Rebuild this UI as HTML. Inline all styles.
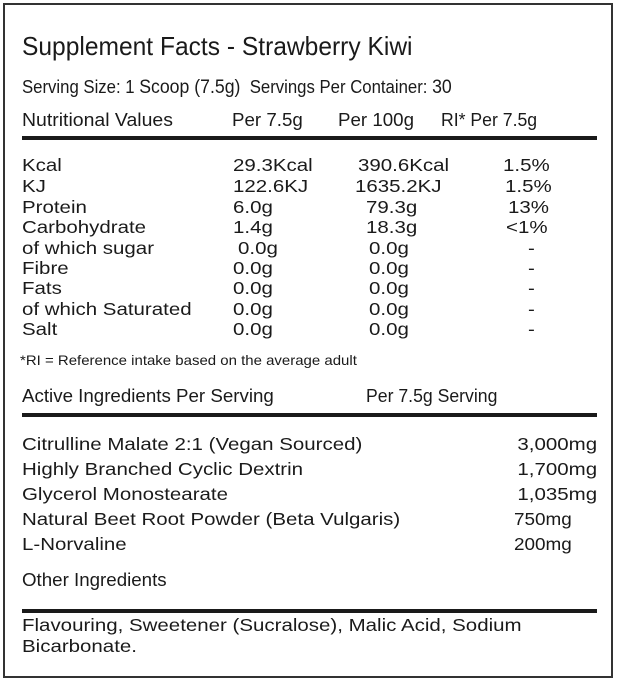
<!DOCTYPE html>
<html><head><meta charset="utf-8"><style>
body{margin:0;background:#fff;width:617px;height:680px;position:relative;overflow:hidden;font-family:"Liberation Sans",sans-serif;color:#1a1a1a}
.box{position:absolute;left:3px;top:3px;width:606px;height:671px;border:2px solid #333}
.t{position:absolute;white-space:nowrap;line-height:20px;height:20px}
.h{font-size:18px;transform:scaleX(1.04);transform-origin:left center}
.r{font-size:17.5px;transform:scaleX(1.17);transform-origin:left center}
.rr{font-size:17.5px;transform:scaleX(1.17);transform-origin:right center}
.rule{position:absolute;left:22px;width:575px;height:4px;background:#1a1a1a}
</style></head><body>
<div class="box"></div>
<div class="t" style="left:22px;top:32px;font-size:26px;line-height:28px;height:28px;transform:scaleX(0.945);transform-origin:left">Supplement Facts - Strawberry Kiwi</div>
<div class="t" style="left:22px;top:77px;font-size:18px;transform:scaleX(0.93);transform-origin:left">Serving Size: 1 <span style="font-size:19px">Scoop (7.5g)</span>&nbsp; Servings Per Container: <span style="font-size:19px">30</span></div>
<div class="t h" style="left:22px;top:110px;transform:scaleX(1.08)">Nutritional Values</div>
<div class="t h" style="left:232px;top:110px">Per 7.5g</div>
<div class="t h" style="left:338px;top:110px">Per 100g</div>
<div class="t h" style="left:441px;top:110px;transform:scaleX(0.98)">RI* Per 7.5g</div>
<div class="rule" style="top:136px"></div>

<div class="t r" style="left:22px;top:155px">Kcal</div><div class="t r" style="left:233px;top:155px">29.3Kcal</div><div class="t r" style="left:358px;top:155px">390.6Kcal</div><div class="t r" style="left:503px;top:155px">1.5%</div>
<div class="t r" style="left:22px;top:176px">KJ</div><div class="t r" style="left:233px;top:176px">122.6KJ</div><div class="t r" style="left:355px;top:176px">1635.2KJ</div><div class="t r" style="left:505px;top:176px">1.5%</div>
<div class="t r" style="left:22px;top:197px">Protein</div><div class="t r" style="left:233px;top:197px">6.0g</div><div class="t r" style="left:366px;top:197px">79.3g</div><div class="t r" style="left:508px;top:197px">13%</div>
<div class="t r" style="left:22px;top:217px">Carbohydrate</div><div class="t r" style="left:233px;top:217px">1.4g</div><div class="t r" style="left:366px;top:217px">18.3g</div><div class="t r" style="left:506px;top:217px">&lt;1%</div>
<div class="t r" style="left:22px;top:238px">of which sugar</div><div class="t r" style="left:238px;top:238px">0.0g</div><div class="t r" style="left:369px;top:238px">0.0g</div><div class="t r" style="left:528px;top:238px">-</div>
<div class="t r" style="left:22px;top:258px">Fibre</div><div class="t r" style="left:233px;top:258px">0.0g</div><div class="t r" style="left:369px;top:258px">0.0g</div><div class="t r" style="left:528px;top:258px">-</div>
<div class="t r" style="left:22px;top:278px">Fats</div><div class="t r" style="left:233px;top:278px">0.0g</div><div class="t r" style="left:369px;top:278px">0.0g</div><div class="t r" style="left:528px;top:278px">-</div>
<div class="t r" style="left:22px;top:299px">of which Saturated</div><div class="t r" style="left:233px;top:299px">0.0g</div><div class="t r" style="left:369px;top:299px">0.0g</div><div class="t r" style="left:528px;top:299px">-</div>
<div class="t r" style="left:22px;top:319px">Salt</div><div class="t r" style="left:233px;top:319px">0.0g</div><div class="t r" style="left:369px;top:319px">0.0g</div><div class="t r" style="left:528px;top:319px">-</div>

<div class="t" style="left:20px;top:350px;font-size:14px;transform:scaleX(1.07);transform-origin:left">*RI = Reference intake based on the average adult</div>
<div class="t h" style="left:22px;top:386px">Active Ingredients Per Serving</div>
<div class="t h" style="left:366px;top:386px;transform:scaleX(0.98)">Per 7.5g Serving</div>
<div class="rule" style="top:413px"></div>

<div class="t r" style="left:22px;top:434px">Citrulline Malate 2:1 (Vegan Sourced)</div><div class="t rr" style="right:20px;top:434px">3,000mg</div>
<div class="t r" style="left:22px;top:459px">Highly Branched Cyclic Dextrin</div><div class="t rr" style="right:20px;top:459px">1,700mg</div>
<div class="t r" style="left:22px;top:484px">Glycerol Monostearate</div><div class="t rr" style="right:20px;top:484px">1,035mg</div>
<div class="t r" style="left:22px;top:509px">Natural Beet Root Powder (Beta Vulgaris)</div><div class="t r" style="left:514px;top:509px;transform:scaleX(1.08)">750mg</div>
<div class="t r" style="left:22px;top:534px">L-Norvaline</div><div class="t r" style="left:514px;top:534px;transform:scaleX(1.08)">200mg</div>

<div class="t h" style="left:22px;top:570px">Other Ingredients</div>
<div class="rule" style="top:609px"></div>
<div class="t r" style="left:22px;top:615px">Flavouring, Sweetener (Sucralose), Malic Acid, Sodium</div>
<div class="t r" style="left:22px;top:636px">Bicarbonate.</div>
</body></html>
